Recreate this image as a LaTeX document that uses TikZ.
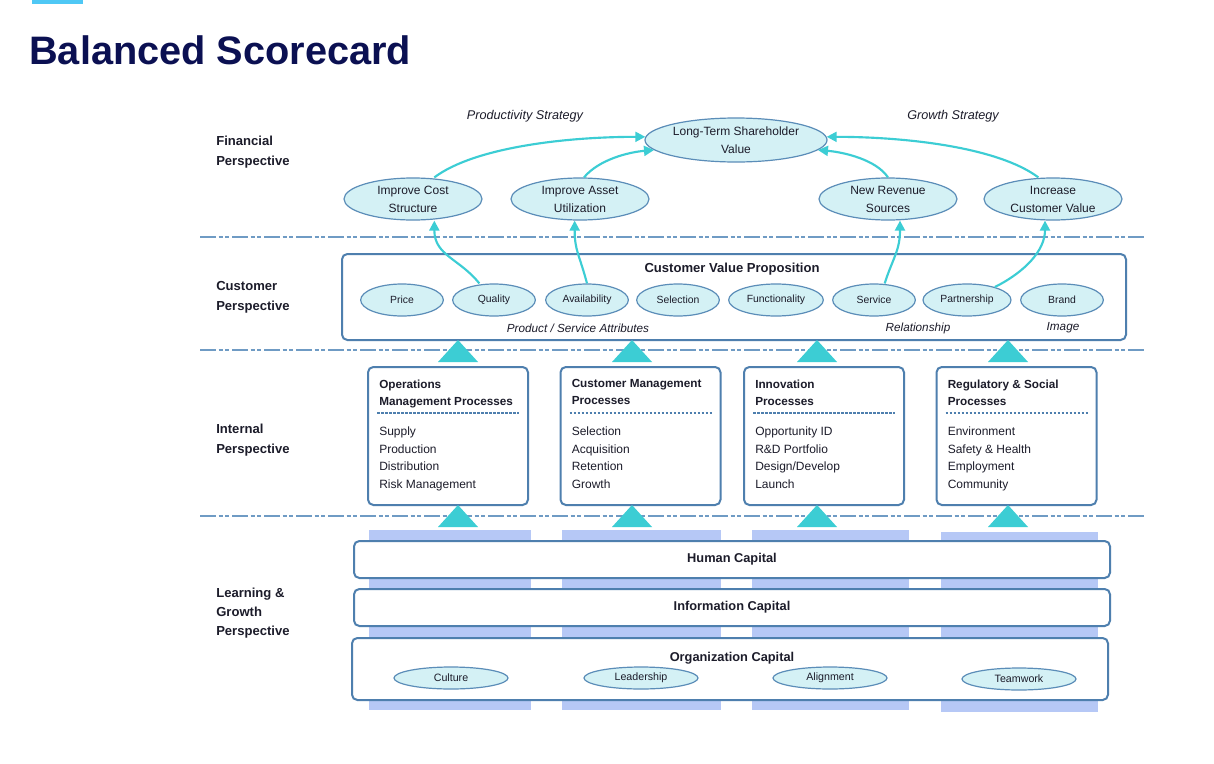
\documentclass[tikz,border=0pt]{standalone}
\usepackage{fontspec}
\setmainfont{Liberation Sans}
\usepackage{tikz}
\usetikzlibrary{arrows.meta,shapes.geometric,calc}

\definecolor{navy}{HTML}{0B1052}
\definecolor{topline}{HTML}{4FC8F5}
\definecolor{ink}{HTML}{1C1C2A}
\definecolor{rim}{HTML}{5B8DB8}
\definecolor{frame}{HTML}{4E7FAE}
\definecolor{bubble}{HTML}{D4F1F5}
\definecolor{aqua}{HTML}{3CCDD4}
\definecolor{barblue}{HTML}{B6C8F6}
\definecolor{rule}{HTML}{6F9BC4}

\begin{document}
\begin{tikzpicture}[x=0.75pt, y=-0.75pt,
  persp/.style={anchor=west, align=left, inner sep=0pt,
                font=\fontsize{9.8}{15}\selectfont\bfseries, text=ink},
  strat/.style={font=\fontsize{9.5}{11}\selectfont\itshape, text=ink},
  goal/.style={ellipse, draw=rim, fill=bubble, line width=0.9pt, inner sep=0pt,
               align=center, minimum width=103.5pt, minimum height=31.5pt,
               font=\fontsize{9}{13.5}\selectfont, text=ink},
  attr/.style={goal, minimum width=62pt, minimum height=24pt,
               font=\fontsize{7.8}{9}\selectfont},
  trait/.style={goal, minimum width=85.5pt, minimum height=16.5pt,
                font=\fontsize{8}{9}\selectfont},
  panel/.style={draw=frame, line width=1.5pt, rounded corners=4pt,
                fill=white, inner sep=0pt},
  head/.style={anchor=north west, align=left, inner sep=0pt,
               font=\fontsize{8.8}{12.75}\selectfont\bfseries, text=ink},
  items/.style={anchor=north west, align=left, inner sep=0pt,
                font=\fontsize{9}{13.25}\selectfont, text=ink},
  caption/.style={font=\fontsize{8.8}{10}\selectfont\itshape, text=ink},
  capital/.style={font=\fontsize{9.6}{11}\selectfont\bfseries, text=ink},
  flow/.style={-{Triangle[length=7.5pt,width=7.5pt]}, line width=1.6pt, draw=aqua},
  divider/.style={draw=rule, line width=1.1pt,
                  dash pattern=on 12pt off 2pt on 3pt off 2pt on 3pt off 2pt},
  dots/.style={draw=frame, line width=1.3pt, dash pattern=on 2pt off 1pt},
]
\useasboundingbox (0,0) rectangle (1214,764);
\fill[white] (0,0) rectangle (1214,764);

% --- Title ---
\fill[topline] (32,0) rectangle (83,4);
\node[anchor=west, inner sep=0pt, font=\fontsize{29.8}{32}\selectfont\bfseries,
      text=navy] (title) at (29,50) {Balanced Scorecard};

% --- Perspective labels ---
\node[persp] (fin) at (216,152) {Financial\\Perspective};
\node[persp] (cus) at (216,297) {Customer\\Perspective};
\node[persp] (int) at (216,440) {Internal\\Perspective};
\node[persp, font=\fontsize{9.8}{14.5}\selectfont\bfseries] (lrn) at (216,613)
  {Learning \&\\Growth\\Perspective};

% --- Dividers ---
\draw[divider] (200,237) -- (1145,237);
\draw[divider] (200,350) -- (1145,350);
\draw[divider] (200,516) -- (1145,516);

% --- Financial perspective ---
\node[strat] (prod) at (525,116) {Productivity Strategy};
\node[strat] (grow) at (953,116) {Growth Strategy};
\node[goal, minimum width=136.5pt, minimum height=33pt] (ltsv) at (736,140)
  {Long-Term Shareholder\\Value};
\node[goal] (cost) at (413,199) {Improve Cost\\Structure};
\node[goal] (asset) at (580,199) {Improve Asset\\Utilization};
\node[goal] (revenue) at (888,199) {New Revenue\\Sources};
\node[goal] (custval) at (1053,199) {Increase\\Customer Value};

% --- Customer perspective ---
\node[panel, minimum width=588pt, minimum height=64.5pt] (cvp) at (734,297) {};
\node[capital, font=\fontsize{9.8}{11}\selectfont\bfseries] (cvptitle) at (732,269)
  {Customer Value Proposition};
\node[attr] (price) at (402,300) {Price};
\node[attr] (quality) at (494,300) {Quality};
\node[attr] (avail) at (587,300) {Availability};
\node[attr] (select) at (678,300) {Selection};
\node[attr, minimum width=71pt] (funct) at (776,300) {Functionality};
\node[attr] (service) at (874,300) {Service};
\node[attr, minimum width=66pt] (partner) at (967,300) {Partnership};
\node[attr] (brand) at (1062,300) {Brand};
\node[caption] (psa) at (578,328) {Product / Service Attributes};
\node[caption] (rel) at (918,328) {Relationship};
\node[caption] (img) at (1063,328) {Image};

% --- Arrows up to financial ---
\draw[flow] ([xshift=-11pt]quality.north) .. controls +(-20,-25) and +(0,35)
  .. ([xshift=16pt]cost.south);
\draw[flow] (avail.north) .. controls +(-8,-30) and +(0,30)
  .. ([xshift=-4pt]asset.south);
\draw[flow] ([xshift=8pt]service.north) .. controls +(8,-25) and +(0,30)
  .. ([xshift=9pt]revenue.south);
\draw[flow] (partner.25) .. controls +(30,-15) and +(0,30)
  .. ([xshift=-6pt]custval.south);
\draw[flow] ([xshift=16pt]cost.north) .. controls +(40,-30) and +(-80,0) .. (ltsv.178);
\draw[flow] ([xshift=3pt]asset.north) .. controls +(15,-18) and +(-25,2) .. (ltsv.187);
\draw[flow] (revenue.north) .. controls +(-12,-18) and +(25,2) .. (ltsv.-7);
\draw[flow] ([xshift=-11pt]custval.north) .. controls +(-40,-30) and +(80,0) .. (ltsv.2);

% --- Internal perspective ---
\node[panel, minimum width=120pt, minimum height=103.5pt] (ops) at (448,436) {};
\node[panel, minimum width=120pt, minimum height=103.5pt] (crm) at (640.5,436) {};
\node[panel, minimum width=120pt, minimum height=103.5pt] (inno) at (824,436) {};
\node[panel, minimum width=120pt, minimum height=103.5pt] (reg) at (1016.5,436) {};

\node[head] (opshead) at ([xshift=9pt,yshift=-10pt]ops.north west)
  {Operations\\Management Processes};
\node[head] (crmhead) at ([xshift=9pt,yshift=-10pt]crm.north west)
  {Customer Management\\Processes};
\node[head] (innohead) at ([xshift=9pt,yshift=-10pt]inno.north west)
  {Innovation\\Processes};
\node[head] (reghead) at ([xshift=9pt,yshift=-10pt]reg.north west)
  {Regulatory \& Social\\Processes};

\draw[dots] ([xshift=7.5pt,yshift=-35pt]ops.north west) -- ([xshift=-7.5pt,yshift=-35pt]ops.north east);
\draw[dots] ([xshift=7.5pt,yshift=-35pt]crm.north west) -- ([xshift=-7.5pt,yshift=-35pt]crm.north east);
\draw[dots] ([xshift=7.5pt,yshift=-35pt]inno.north west) -- ([xshift=-7.5pt,yshift=-35pt]inno.north east);
\draw[dots] ([xshift=7.5pt,yshift=-35pt]reg.north west) -- ([xshift=-7.5pt,yshift=-35pt]reg.north east);

\node[items] (opsitems) at ([xshift=9pt,yshift=-45.5pt]ops.north west)
  {Supply\\Production\\Distribution\\Risk Management};
\node[items] (crmitems) at ([xshift=9pt,yshift=-45.5pt]crm.north west)
  {Selection\\Acquisition\\Retention\\Growth};
\node[items] (innoitems) at ([xshift=9pt,yshift=-45.5pt]inno.north west)
  {Opportunity ID\\R\&D Portfolio\\Design/Develop\\Launch};
\node[items] (regitems) at ([xshift=9pt,yshift=-45.5pt]reg.north west)
  {Environment\\Safety \& Health\\Employment\\Community};

% --- Triangles between layers ---
\foreach \x in {458,632,817,1008} {
  \fill[aqua] (\x-20,362) -- (\x,340) -- (\x+20,362) -- cycle;
  \fill[aqua] (\x-20,527) -- (\x,505) -- (\x+20,527) -- cycle;
}

% --- Learning & growth perspective ---
\fill[barblue] (369,530) rectangle (531,710);
\fill[barblue] (562,530) rectangle (721,710);
\fill[barblue] (752,530) rectangle (909,710);
\fill[barblue] (941,532) rectangle (1098,712);

\node[panel, minimum width=567pt, minimum height=27.75pt, capital] (human) at (732,559.5)
  {Human Capital};
\node[panel, minimum width=567pt, minimum height=27.75pt, capital] (info) at (732,607.5)
  {Information Capital};
\node[panel, minimum width=567pt, minimum height=46.5pt] (org) at (730,669) {};
\node[capital] (orgtitle) at (732,658) {Organization Capital};
\node[trait] (culture) at (451,678) {Culture};
\node[trait] (lead) at (641,678) {Leadership};
\node[trait] (align) at (830,678) {Alignment};
\node[trait] (team) at (1019,679) {Teamwork};
\end{tikzpicture}
\end{document}
